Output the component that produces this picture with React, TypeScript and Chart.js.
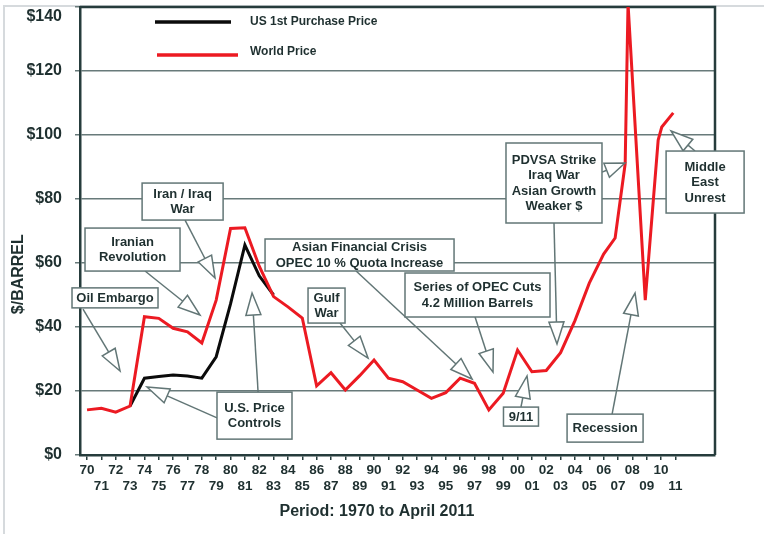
import { useEffect, useRef } from "react";
import { Chart, registerables } from "chart.js";

Chart.register(...registerables);

// ---- Data ----
const WORLD_YEARS = [
  1970, 1971, 1972, 1973, 1974, 1975, 1976, 1977, 1978, 1979,
  1980, 1981, 1982, 1983, 1984, 1985, 1986, 1987, 1988, 1989,
  1990, 1991, 1992, 1993, 1994, 1995, 1996, 1997, 1998, 1999,
  2000, 2001, 2002, 2003, 2004, 2005, 2006, 2006.8, 2007.5, 2007.7,
  2008.9, 2009.8, 2010.05, 2010.85,
];
const WORLD_PRICE = [
  14.1, 14.6, 13.4, 15.3, 43.2, 42.7, 39.6, 38.5, 35.0, 48.4,
  70.8, 71.0, 59.0, 49.5, 46.3, 42.8, 21.6, 25.7, 20.3, 24.8,
  29.7, 24.0, 22.9, 20.3, 17.7, 19.5, 24.0, 22.4, 14.1, 19.3,
  32.8, 26.0, 26.4, 32.0, 42.0, 53.7, 62.8, 67.8, 91.0, 141.0,
  48.4, 98.4, 102.5, 106.9,
];
const US_YEARS = [1973, 1974, 1975, 1976, 1977, 1978, 1979, 1980, 1981, 1982, 1983];
const US_PRICE = [15.3, 24.0, 24.5, 25.0, 24.7, 24.0, 30.7, 47.2, 65.6, 56.0, 50.0];

const X_TICK_LABELS = [
  "70", "71", "72", "73", "74", "75", "76", "77", "78", "79",
  "80", "81", "82", "83", "84", "85", "86", "87", "88", "89",
  "90", "91", "92", "93", "94", "95", "96", "97", "98", "99",
  "00", "01", "02", "03", "04", "05", "06", "07", "08", "09",
  "10", "11",
];
const FIRST_YEAR = 1970;
const Y_TICKS = [0, 20, 40, 60, 80, 100, 120, 140];
const SERIES_NAMES = ["US 1st Purchase Price", "World Price"];
const X_TITLE = "Period: 1970 to April 2011";
const Y_TITLE = "$/BARREL";

// Annotations: box centre and arrows in data units (year, $)
type Ann = {
  lines: string[];
  at: [number, number];
  w: number;
  h: number;
  arrows: [number, number, number, number][];
};
const ANNOTATIONS: Ann[] = [
  { lines: ["Oil Embargo"], at: [1971.95, 49.1], w: 86, h: 20, arrows: [[1969.72, 45.6, 1972.3, 26.25]] },
  { lines: ["Iranian", "Revolution"], at: [1973.17, 64.2], w: 95, h: 43, arrows: [[1974.04, 57.5, 1977.87, 43.75]] },
  { lines: ["Iran / Iraq", "War"], at: [1976.66, 79.2], w: 81, h: 37, arrows: [[1976.83, 73.4, 1978.92, 55.3]] },
  {
    lines: ["U.S. Price", "Controls"], at: [1981.67, 12.3], w: 75, h: 47,
    arrows: [[1979.06, 11.6, 1974.18, 21.25], [1981.92, 19.7, 1981.5, 50.6]],
  },
  {
    lines: ["Asian Financial Crisis", "OPEC 10 % Quota Increase"], at: [1988.99, 62.5], w: 189, h: 32,
    arrows: [[1988.75, 57.5, 1996.83, 23.75]],
  },
  { lines: ["Gulf", "War"], at: [1986.69, 46.7], w: 37, h: 35, arrows: [[1987.63, 41.25, 1989.58, 30.3]] },
  {
    lines: ["Series of OPEC Cuts", "4.2 Million Barrels"], at: [1997.21, 50.0], w: 145, h: 44,
    arrows: [[1997.04, 43.1, 1998.29, 25.9]],
  },
  { lines: ["9/11"], at: [2000.24, 12.0], w: 35, h: 19, arrows: [[2000.24, 15.0, 2000.66, 24.7]] },
  {
    lines: ["PDVSA Strike", "Iraq War", "Asian Growth", "Weaker $"], at: [2002.54, 85.0], w: 96, h: 80,
    arrows: [[2005.89, 88.4, 2007.49, 91.25], [2002.54, 72.5, 2002.75, 34.7]],
  },
  {
    lines: ["Middle", "East", "Unrest"], at: [2013.07, 85.3], w: 78, h: 62,
    arrows: [[2012.37, 95.0, 2010.7, 101.25]],
  },
  { lines: ["Recession"], at: [2006.1, 8.4], w: 76, h: 28, arrows: [[2006.59, 12.8, 2008.19, 50.6]] },
];

const FONT = "'Liberation Sans', Arial, Helvetica, sans-serif";
const TEXT_COLOR = "#1f3030";
const AXIS_COLOR = "#263c3c";
const GRID_COLOR = "#687a7a";
const NOTE_STROKE = "#627676";
const RED = "#ec1a22";
const BLACK = "#0b0b0b";

function drawArrow(ctx: CanvasRenderingContext2D, x0: number, y0: number, x1: number, y1: number) {
  const dx = x1 - x0;
  const dy = y1 - y0;
  const len = Math.hypot(dx, dy);
  const ux = dx / len;
  const uy = dy / len;
  const hl = Math.min(22, len * 0.8);
  const hw = 7.5;
  const bx = x1 - ux * hl;
  const by = y1 - uy * hl;
  ctx.beginPath();
  ctx.moveTo(x0, y0);
  ctx.lineTo(bx, by);
  ctx.stroke();
  ctx.beginPath();
  ctx.moveTo(x1, y1);
  ctx.lineTo(bx - uy * hw, by + ux * hw);
  ctx.lineTo(bx + uy * hw, by - ux * hw);
  ctx.closePath();
  ctx.fillStyle = "#ffffff";
  ctx.fill();
  ctx.stroke();
}

const decorPlugin = {
  id: "decor",
  beforeDraw(chart: any) {
    const ctx = chart.ctx as CanvasRenderingContext2D;
    ctx.save();
    ctx.fillStyle = "#ffffff";
    ctx.fillRect(0, 0, chart.width, chart.height);
    ctx.strokeStyle = "#d6dadd";
    ctx.lineWidth = 2;
    ctx.beginPath();
    ctx.moveTo(4, chart.height);
    ctx.lineTo(4, 6);
    ctx.lineTo(chart.width, 6);
    ctx.stroke();
    ctx.restore();
  },
  beforeDatasetsDraw(chart: any) {
    const ctx = chart.ctx as CanvasRenderingContext2D;
    const a = chart.chartArea;
    ctx.save();
    ctx.strokeStyle = AXIS_COLOR;
    ctx.lineWidth = 2.5;
    ctx.beginPath();
    ctx.moveTo(a.left, a.top);
    ctx.lineTo(a.right, a.top);
    ctx.lineTo(a.right, a.bottom);
    ctx.stroke();
    ctx.restore();
  },
  afterDraw(chart: any) {
    const ctx = chart.ctx as CanvasRenderingContext2D;
    const a = chart.chartArea;
    const xs = chart.scales.x;
    const ys = chart.scales.y;
    ctx.save();

    // Legend
    const ds = chart.data.datasets;
    const legendRows = [
      { y: a.top + 15, x0: a.left + 75, x1: a.left + 151, ty: a.top + 15 },
      { y: a.top + 48, x0: a.left + 77, x1: a.left + 158, ty: a.top + 45 },
    ];
    ds.forEach((d: any, i: number) => {
      const r = legendRows[i];
      ctx.strokeStyle = d.borderColor;
      ctx.lineWidth = 3.5;
      ctx.beginPath();
      ctx.moveTo(r.x0, r.y);
      ctx.lineTo(r.x1, r.y);
      ctx.stroke();
      ctx.fillStyle = TEXT_COLOR;
      ctx.font = `bold 12px ${FONT}`;
      ctx.textAlign = "left";
      ctx.textBaseline = "middle";
      ctx.fillText(d.label, a.left + 170, r.ty);
    });

    // Annotations: arrows first, then boxes on top
    ctx.strokeStyle = NOTE_STROKE;
    ctx.lineWidth = 1.5;
    ANNOTATIONS.forEach((n) => {
      n.arrows.forEach((ar) => {
        drawArrow(
          ctx,
          xs.getPixelForValue(ar[0]),
          ys.getPixelForValue(ar[1]),
          xs.getPixelForValue(ar[2]),
          ys.getPixelForValue(ar[3])
        );
      });
    });
    ANNOTATIONS.forEach((n) => {
      const cx = xs.getPixelForValue(n.at[0]);
      const cy = ys.getPixelForValue(n.at[1]);
      const l = cx - n.w / 2;
      const t = cy - n.h / 2;
      ctx.fillStyle = "#ffffff";
      ctx.fillRect(l, t, n.w, n.h);
      ctx.strokeStyle = NOTE_STROKE;
      ctx.lineWidth = 1.5;
      ctx.strokeRect(l, t, n.w, n.h);
      ctx.fillStyle = TEXT_COLOR;
      ctx.font = `bold 13px ${FONT}`;
      ctx.textAlign = "center";
      ctx.textBaseline = "middle";
      const lh = 15.5;
      const startY = cy - ((n.lines.length - 1) * lh) / 2;
      n.lines.forEach((s, i) => ctx.fillText(s, cx, startY + i * lh + 0.5));
    });

    // Axis titles
    ctx.fillStyle = TEXT_COLOR;
    ctx.font = `bold 16px ${FONT}`;
    ctx.textAlign = "center";
    ctx.textBaseline = "middle";
    ctx.fillText(X_TITLE, xs.getPixelForValue(1990.2), 512);
    ctx.save();
    ctx.translate(19, ys.getPixelForValue(56.5));
    ctx.rotate(-Math.PI / 2);
    ctx.fillText(Y_TITLE, 0, 0);
    ctx.restore();

    ctx.restore();
  },
};

export default function App() {
  const canvasRef = useRef<HTMLCanvasElement | null>(null);

  useEffect(() => {
    const canvas = canvasRef.current;
    if (!canvas) return;
    const chart = new Chart(canvas, {
      type: "line",
      data: {
        datasets: [
          {
            label: SERIES_NAMES[0],
            data: US_YEARS.map((x, i) => ({ x, y: US_PRICE[i] })),
            borderColor: BLACK,
            backgroundColor: BLACK,
            borderWidth: 3,
            pointRadius: 0,
            tension: 0,
            order: 1,
          },
          {
            label: SERIES_NAMES[1],
            data: WORLD_YEARS.map((x, i) => ({ x, y: WORLD_PRICE[i] })),
            borderColor: RED,
            backgroundColor: RED,
            borderWidth: 3,
            pointRadius: 0,
            tension: 0,
            order: 0,
          },
        ],
      },
      options: {
        animation: false,
        responsive: false,
        maintainAspectRatio: false,
        devicePixelRatio: 1,
        layout: { padding: { top: 7, right: 49, bottom: 0, left: 0 } },
        plugins: {
          legend: { display: false },
          tooltip: { enabled: false },
          title: { display: false },
        },
        scales: {
          x: {
            type: "linear",
            min: 1969.51,
            max: 2013.76,
            afterBuildTicks: (scale: any) => {
              scale.ticks = X_TICK_LABELS.map((_, i) => ({ value: FIRST_YEAR + i }));
            },
            afterFit: (scale: any) => {
              scale.height = 79;
              scale.paddingLeft = 0;
              scale.paddingRight = 0;
            },
            ticks: {
              autoSkip: false,
              maxRotation: 0,
              minRotation: 0,
              padding: 2,
              color: TEXT_COLOR,
              font: { family: FONT, size: 13.5, weight: "bold", lineHeight: 1.2 },
              callback: (value: any) => {
                const i = Math.round(Number(value) - FIRST_YEAR);
                const lab = X_TICK_LABELS[i] ?? "";
                return i % 2 === 0 ? [lab] : ["", lab];
              },
            },
            grid: {
              drawOnChartArea: false,
              drawTicks: true,
              tickLength: 5,
              color: AXIS_COLOR,
              lineWidth: 1.5,
            },
            border: { display: true, color: AXIS_COLOR, width: 2.5 },
          },
          y: {
            type: "linear",
            min: 0,
            max: 140,
            afterBuildTicks: (scale: any) => {
              scale.ticks = Y_TICKS.map((v) => ({ value: v }));
            },
            afterFit: (scale: any) => {
              scale.width = 80;
              scale.paddingTop = 0;
              scale.paddingBottom = 0;
            },
            ticks: {
              padding: 13,
              color: TEXT_COLOR,
              font: { family: FONT, size: 16, weight: "bold" },
              callback: (value: any) => {
                const lab = "$" + value;
                // the top label sits just below its gridline, as in the reference
                return Number(value) === Y_TICKS[Y_TICKS.length - 1] ? ["", lab] : lab;
              },
            },
            grid: {
              color: GRID_COLOR,
              lineWidth: 1.5,
              tickLength: 5,
              drawTicks: true,
            },
            border: { display: true, color: AXIS_COLOR, width: 2.5 },
          },
        },
      },
      plugins: [decorPlugin],
    } as any);
    return () => chart.destroy();
  }, []);

  return (
    <div style={{ position: "absolute", left: 0, top: 0, width: 764, height: 534, background: "#ffffff" }}>
      <canvas ref={canvasRef} width={764} height={534} style={{ display: "block", width: 764, height: 534 }} />
    </div>
  );
}
